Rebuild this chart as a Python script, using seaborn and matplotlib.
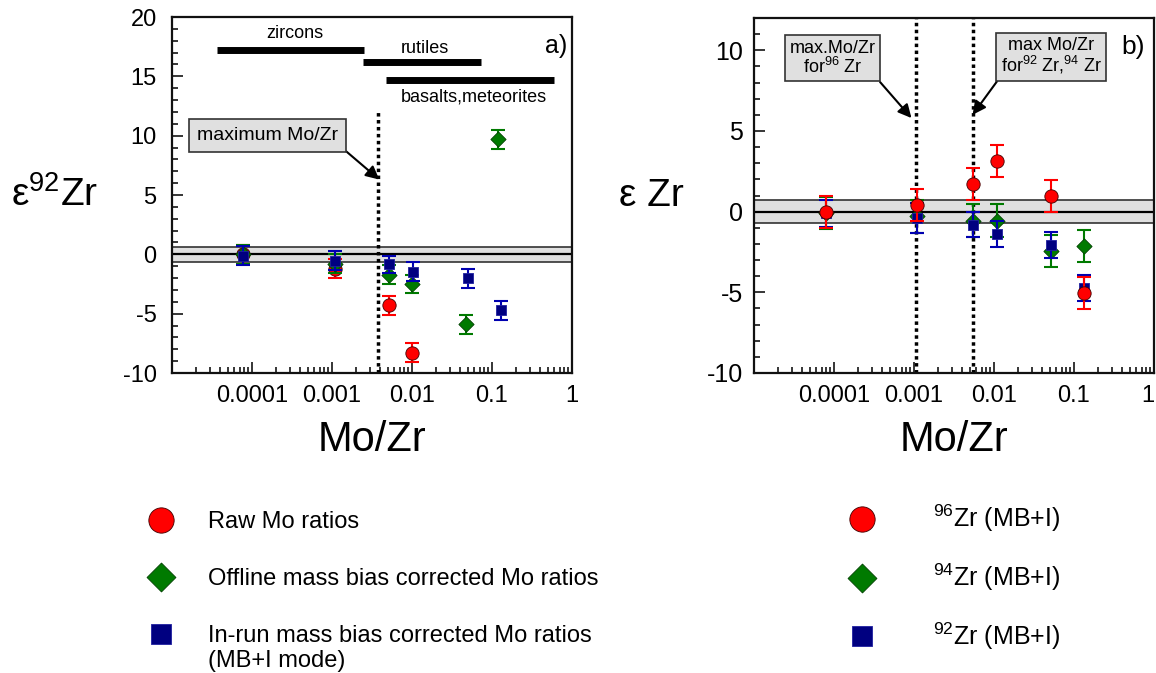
import matplotlib
matplotlib.use('Agg')
import matplotlib.pyplot as plt
import seaborn as sns
from matplotlib.ticker import MultipleLocator, FixedLocator, NullFormatter, LogLocator

# ---- data ----
# panel a: epsilon 92Zr vs Mo/Zr
a_raw_x = [7.8e-5, 1.1e-3, 5.1e-3, 1.0e-2]
a_raw_y = [0.0, -1.2, -4.3, -8.3]
a_raw_err = [0.8, 0.8, 0.8, 0.8]

a_off_x = [7.8e-5, 1.1e-3, 5.1e-3, 1.0e-2, 4.8e-2, 1.2e-1]
a_off_y = [0.0, -0.8, -1.7, -2.5, -5.9, 9.7]
a_off_err = [0.8, 0.8, 0.8, 0.8, 0.8, 0.8]

a_inrun_x = [7.8e-5, 1.1e-3, 5.2e-3, 1.03e-2, 5.0e-2, 1.3e-1]
a_inrun_y = [-0.1, -0.55, -0.85, -1.45, -2.0, -4.7]
a_inrun_err = [0.8, 0.8, 0.7, 0.8, 0.8, 0.8]

# panel b: epsilon Zr (MB+I) vs Mo/Zr
b_x = [8.0e-5, 1.1e-3, 5.4e-3, 1.1e-2, 5.1e-2, 1.35e-1]
b_zr96 = [0.0, 0.4, 1.7, 3.15, 0.95, -5.05]
b_zr96_err = [1.0, 1.0, 1.0, 1.0, 1.0, 1.0]
b_zr94 = [-0.1, -0.3, -0.55, -0.55, -2.45, -2.15]
b_zr94_err = [1.0, 1.0, 1.0, 1.0, 1.0, 1.0]
b_zr92 = [-0.1, -0.4, -0.8, -1.4, -2.05, -4.75]
b_zr92_err = [0.85, 0.95, 0.8, 0.8, 0.8, 0.8]

# sample-type ranges in panel a (Mo/Zr from, to, y)
ranges = [('zircons', 3.7e-5, 2.5e-3, 17.2),
          ('rutiles', 2.45e-3, 7.2e-2, 16.2),
          ('basalts,meteorites', 4.7e-3, 0.6, 14.7)]

xticks = [1e-4, 1e-3, 1e-2, 1e-1, 1]
xticklabels = ['0.0001', '0.001', '0.01', '0.1', '1']

sns.set_style('ticks')
plt.rcParams['font.family'] = ['Liberation Sans', 'DejaVu Sans']
plt.rcParams['mathtext.fontset'] = 'custom'
plt.rcParams['mathtext.rm'] = 'Liberation Sans'
plt.rcParams['mathtext.it'] = 'Liberation Sans:italic'
plt.rcParams['mathtext.bf'] = 'Liberation Sans:bold'
plt.rcParams['axes.unicode_minus'] = False
plt.rcParams['text.color'] = 'black'
plt.rcParams['axes.labelcolor'] = 'black'

RED, GREEN, BLUE, NAVY = '#ff0000', '#007a00', '#0000b0', '#000080'

fig = plt.figure(figsize=(11.56, 6.73), dpi=100)
ax_a = fig.add_axes([172 / 1156, 1 - 373 / 673, 400 / 1156, 356 / 673])
ax_b = fig.add_axes([754 / 1156, 1 - 373 / 673, 400 / 1156, 355 / 673])


def series(ax, x, y, err, marker, face, ecol, s, edge, z):
    ax.errorbar(x, y, yerr=err, fmt='none', ecolor=ecol, elinewidth=1.5,
                capsize=5, capthick=1.5, zorder=z)
    sns.scatterplot(x=x, y=y, marker=marker, s=s, color=face, edgecolor=edge,
                    linewidth=0.6, ax=ax, zorder=z + 0.5)
    return ax.collections[-1]


def style_axes(ax, ylim, band, ytick_size, ypad):
    ax.set_xscale('log')
    ax.set_xlim(1e-5, 1)
    ax.set_ylim(*ylim)
    ax.axhspan(-band, band, facecolor='#e0e0e0', edgecolor='#333333', lw=1.2, zorder=1)
    ax.axhline(0, color='black', lw=1.6, zorder=1.5)
    ax.xaxis.set_major_locator(FixedLocator(xticks))
    ax.set_xticklabels(xticklabels)
    ax.xaxis.set_minor_locator(LogLocator(base=10, subs=range(2, 10), numticks=20))
    ax.xaxis.set_minor_formatter(NullFormatter())
    ax.yaxis.set_major_locator(MultipleLocator(5))
    ax.yaxis.set_minor_locator(MultipleLocator(1))
    ax.tick_params(which='both', direction='in', top=False, right=False, width=1.1,
                   colors='black', labelcolor='black')
    ax.tick_params(which='major', length=8)
    ax.tick_params(which='minor', length=4)
    ax.tick_params(axis='x', labelsize=17, pad=9)
    ax.tick_params(axis='y', labelsize=ytick_size, pad=ypad)
    for sp in ax.spines.values():
        sp.set_visible(True)
        sp.set_linewidth(1.6)
        sp.set_color('#111111')
    ax.set_xlabel('Mo/Zr', fontsize=30, va='center')
    ax.xaxis.set_label_coords(0.5, -0.188)


# ---- panel a ----
style_axes(ax_a, (-10, 20), 0.65, 17, 11)
h_raw = series(ax_a, a_raw_x, a_raw_y, a_raw_err, 'o', RED, RED, 92, '#400000', 3)
h_off = series(ax_a, a_off_x, a_off_y, a_off_err, 'D', GREEN, GREEN, 60, '#004000', 4)
h_in = series(ax_a, a_inrun_x, a_inrun_y, a_inrun_err, 's', NAVY, BLUE, 62, '#2020a0', 5)

for name, x0, x1, yv in ranges:
    ax_a.hlines(yv, x0, x1, color='black', lw=5, zorder=2)
ax_a.text(3.4e-4, 18.6, 'zircons', fontsize=13, ha='center', va='center')
ax_a.text(1.44e-2, 17.35, 'rutiles', fontsize=13, ha='center', va='center')
ax_a.text(6.0e-2, 13.3, 'basalts,meteorites', fontsize=13, ha='center', va='center')
ax_a.vlines(0.0038, -10, 12, colors='black', linestyles=(0, (1, 1)), lw=2.5, zorder=2)
ax_a.annotate('maximum Mo/Zr', xy=(0.0039, 6.3), xytext=(1.55e-4, 10.0),
              fontsize=14, ha='center', va='center',
              bbox=dict(boxstyle='square,pad=0.4', fc='#e0e0e0', ec='#333333', lw=1.2),
              arrowprops=dict(arrowstyle='-|>', color='black', lw=1.5, mutation_scale=20,
                              shrinkA=0, shrinkB=0, relpos=(1, 0)))
ax_a.text(0.987, 0.919, 'a)', transform=ax_a.transAxes, fontsize=18, ha='right', va='center')
ax_a.set_ylabel('ε$^{92}$Zr', fontsize=28, rotation=0, ha='center', va='center')
ax_a.yaxis.set_label_coords(-0.2925, 0.5)

# ---- panel b ----
style_axes(ax_b, (-10, 12), 0.7, 18, 8)
h94 = series(ax_b, b_x, b_zr94, b_zr94_err, 'D', GREEN, GREEN, 60, '#004000', 3)
h92 = series(ax_b, b_x, b_zr92, b_zr92_err, 's', NAVY, BLUE, 62, '#2020a0', 4)
h96 = series(ax_b, b_x, b_zr96, b_zr96_err, 'o', RED, RED, 92, '#400000', 5)
ax_b.get_xticklabels()[-1].set_horizontalalignment('right')

ax_b.axvline(0.00105, color='black', ls=(0, (1, 1)), lw=2.5, zorder=2)
ax_b.axvline(0.0054, color='black', ls=(0, (1, 1)), lw=2.5, zorder=2)
box = dict(boxstyle='square,pad=0.25', fc='#e0e0e0', ec='#333333', lw=1.2)
ax_b.annotate('max.Mo/Zr\nfor$^{96}$ Zr', xy=(9.3e-4, 5.8), xytext=(9.6e-5, 9.5),
              fontsize=13, ha='center', va='center', multialignment='center', linespacing=1.0,
              bbox=box,
              arrowprops=dict(arrowstyle='-|>', color='black', lw=1.5, mutation_scale=20,
                              shrinkA=0, shrinkB=0, relpos=(1, 0)))
ax_b.annotate('max Mo/Zr\nfor$^{92}$ Zr,$^{94}$ Zr', xy=(0.0054, 6.0), xytext=(0.052, 9.6),
              fontsize=13, ha='center', va='center', multialignment='center', linespacing=1.0,
              bbox=box,
              arrowprops=dict(arrowstyle='-|>', color='black', lw=1.5, mutation_scale=20,
                              shrinkA=0, shrinkB=0, relpos=(0, 0)))
ax_b.text(0.977, 0.919, 'b)', transform=ax_b.transAxes, fontsize=19, ha='right', va='center')
ax_b.set_ylabel('ε Zr', fontsize=28, rotation=0, ha='center', va='center')
ax_b.yaxis.set_label_coords(-0.2575, 0.5)

# ---- legends ----
fig.legend(handles=[h_raw, h_off, h_in],
           labels=['Raw Mo ratios', 'Offline mass bias corrected Mo ratios',
                   'In-run mass bias corrected Mo ratios'],
           loc='upper left', bbox_to_anchor=(149 / 1156, 1 - 511 / 673),
           bbox_transform=fig.transFigure, frameon=False, fontsize=17,
           markerscale=1.9, handlelength=1.0, handletextpad=1.5, labelspacing=1.49,
           borderpad=0, borderaxespad=0, scatterpoints=1, scatteryoffsets=[0.5])
# second line of the third entry
fig.text(208 / 1156, 1 - 672 / 673, '(MB+I mode)', fontsize=17, ha='left', va='bottom')

fig.legend(handles=[h96, h94, h92],
           labels=['$^{96}$Zr (MB+I)', '$^{94}$Zr (MB+I)', '$^{92}$Zr (MB+I)'],
           loc='upper left', bbox_to_anchor=(849.5 / 1156, 1 - 503 / 673),
           bbox_transform=fig.transFigure, frameon=False, fontsize=18,
           markerscale=1.9, handlelength=1.0, handletextpad=2.34, labelspacing=1.1,
           borderpad=0, borderaxespad=0, scatterpoints=1, scatteryoffsets=[0.5])

fig.savefig('out.png', dpi=100)
